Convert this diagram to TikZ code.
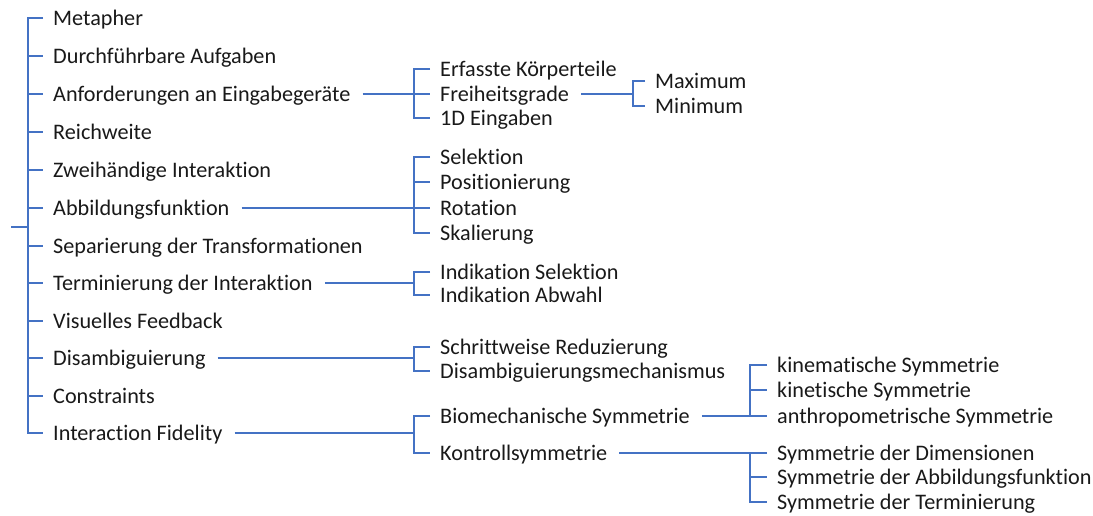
\documentclass[tikz,border=0pt]{standalone}
\usepackage{fontspec}
\setmainfont{Carlito}[Ligatures={CommonOff,ContextualOff}]
\definecolor{linkblue}{HTML}{4472C4}
\newcommand{\lblfont}{\fontsize{22.2}{25}\selectfont}
\begin{document}
\begin{tikzpicture}[x=1pt,y=-1pt,
  lbl/.style={anchor=west, inner sep=0pt, text height=15pt, text depth=0pt, font=\lblfont, text=black!90},
  link/.style={draw=linkblue, line width=2.6pt, line join=miter}]
\useasboundingbox (0,0) rectangle (1093,516);

% level 1
\node[lbl] (m1)  at (53,18)  {Metapher};
\node[lbl] (m2)  at (53,56)  {Durchführbare Aufgaben};
\node[lbl] (m3)  at (53,94)  {Anforderungen an Eingabegeräte};
\node[lbl] (m4)  at (53,132) {Reichweite};
\node[lbl] (m5)  at (53,170) {Zweihändige Interaktion};
\node[lbl] (m6)  at (53,208) {Abbildungsfunktion};
\node[lbl] (m7)  at (53,246) {Separierung der Transformationen};
\node[lbl] (m8)  at (53,283) {Terminierung der Interaktion};
\node[lbl] (m9)  at (53,321) {Visuelles Feedback};
\node[lbl] (m10) at (53,358) {Disambiguierung};
\node[lbl] (m11) at (53,396) {Constraints};
\node[lbl] (m12) at (53,433) {Interaction Fidelity};

% level 2
\node[lbl] (a1) at (440,69)  {Erfasste Körperteile};
\node[lbl] (a2) at (440,94)  {Freiheitsgrade};
\node[lbl] (a3) at (440,118) {1D Eingaben};

\node[lbl] (b1) at (440,157) {Selektion};
\node[lbl] (b2) at (440,182) {Positionierung};
\node[lbl] (b3) at (440,208) {Rotation};
\node[lbl] (b4) at (440,233) {Skalierung};

\node[lbl] (c1) at (440,272) {Indikation Selektion};
\node[lbl] (c2) at (440,295) {Indikation Abwahl};

\node[lbl] (d1) at (440,347) {Schrittweise Reduzierung};
\node[lbl] (d2) at (440,371) {Disambiguierungsmechanismus};

\node[lbl] (e1) at (440,416) {Biomechanische Symmetrie};
\node[lbl] (e2) at (440,453) {Kontrollsymmetrie};

% level 3
\node[lbl] (f1) at (655,81)  {Maximum};
\node[lbl] (f2) at (655,106) {Minimum};

\node[lbl] (g1) at (777,365) {kinematische Symmetrie};
\node[lbl] (g2) at (777,390) {kinetische Symmetrie};
\node[lbl] (g3) at (777,416) {anthropometrische Symmetrie};

\node[lbl] (h1) at (777,453) {Symmetrie der Dimensionen};
\node[lbl] (h2) at (777,477) {Symmetrie der Abbildungsfunktion};
\node[lbl] (h3) at (777,502) {Symmetrie der Terminierung};

% bracket spines
\coordinate (root) at (11,227);
\coordinate (s0) at (28,227);
\coordinate (sA) at (414,94);
\coordinate (sB) at (414,208);
\coordinate (sC) at (414,283);
\coordinate (sD) at (414,358);
\coordinate (sE) at (414,433);
\coordinate (sF) at (633,94);
\coordinate (sG) at (750,416);
\coordinate (sH) at (750,453);

% root bracket
\draw[link] (root) -- (s0);
\draw[link] ([xshift=-10pt]m1.west) -| (s0 |- m12.west) -- ([xshift=-10pt]m12.west);
\foreach \n in {m2,m3,m4,m5,m6,m7,m8,m9,m10,m11}
  \draw[link] (s0 |- \n.west) -- ([xshift=-10pt]\n.west);

% Anforderungen an Eingabegeräte
\draw[link] ([xshift=12pt]m3.east) -- (sA);
\draw[link] ([xshift=-10pt]a1.west) -| (sA |- a3.west) -- ([xshift=-10pt]a3.west);
\draw[link] (sA |- a2.west) -- ([xshift=-10pt]a2.west);

% Abbildungsfunktion
\draw[link] ([xshift=12pt]m6.east) -- (sB);
\draw[link] ([xshift=-10pt]b1.west) -| (sB |- b4.west) -- ([xshift=-10pt]b4.west);
\foreach \n in {b2,b3}
  \draw[link] (sB |- \n.west) -- ([xshift=-10pt]\n.west);

% Terminierung der Interaktion
\draw[link] ([xshift=12pt]m8.east) -- (sC);
\draw[link] ([xshift=-10pt]c1.west) -| (sC |- c2.west) -- ([xshift=-10pt]c2.west);

% Disambiguierung
\draw[link] ([xshift=12pt]m10.east) -- (sD);
\draw[link] ([xshift=-10pt]d1.west) -| (sD |- d2.west) -- ([xshift=-10pt]d2.west);

% Interaction Fidelity
\draw[link] ([xshift=12pt]m12.east) -- (sE);
\draw[link] ([xshift=-10pt]e1.west) -| (sE |- e2.west) -- ([xshift=-10pt]e2.west);

% Freiheitsgrade
\draw[link] ([xshift=12pt]a2.east) -- (sF);
\draw[link] ([xshift=-10pt]f1.west) -| (sF |- f2.west) -- ([xshift=-10pt]f2.west);

% Biomechanische Symmetrie
\draw[link] ([xshift=12pt]e1.east) -- (sG);
\draw[link] ([xshift=-10pt]g1.west) -| (sG |- g3.west) -- ([xshift=-10pt]g3.west);
\draw[link] (sG |- g2.west) -- ([xshift=-10pt]g2.west);

% Kontrollsymmetrie
\draw[link] ([xshift=12pt]e2.east) -- (sH);
\draw[link] ([xshift=-10pt]h1.west) -| (sH |- h3.west) -- ([xshift=-10pt]h3.west);
\draw[link] (sH |- h2.west) -- ([xshift=-10pt]h2.west);
\end{tikzpicture}
\end{document}
